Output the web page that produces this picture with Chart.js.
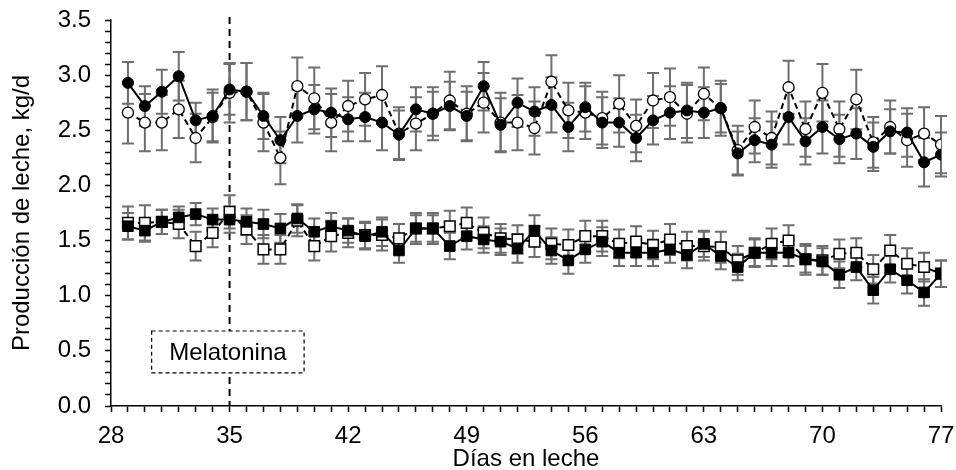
<!DOCTYPE html>
<html>
<head>
<meta charset="utf-8">
<script src="https://cdn.jsdelivr.net/npm/chart.js@4.4.1/dist/chart.umd.min.js"></script>
<style>
  html, body { margin: 0; padding: 0; background: #fff; }
  #wrap { width: 956px; height: 470px; }
</style>
</head>
<body>
<div id="wrap"><canvas id="milkChart" width="956" height="470"></canvas></div>
<script>
// days 29..77
const days = [];
for (let d = 29; d <= 77; d++) days.push(d);

// upper group, filled circles (solid line)
const circFilled = [2.93, 2.72, 2.85, 2.99, 2.59, 2.63, 2.87, 2.85, 2.63, 2.41,
                    2.63, 2.69, 2.66, 2.60, 2.62, 2.57, 2.46, 2.69, 2.65, 2.72,
                    2.63, 2.90, 2.55, 2.75, 2.67, 2.73, 2.53, 2.71, 2.57, 2.57,
                    2.43, 2.59, 2.66, 2.68, 2.66, 2.70, 2.29, 2.41, 2.37, 2.62,
                    2.40, 2.53, 2.42, 2.47, 2.35, 2.49, 2.48, 2.21, 2.28];
const circFilledErr = [0.19, 0.18, 0.20, 0.22, 0.16, 0.24, 0.23, 0.26, 0.21, 0.21,
                       0.24, 0.22, 0.22, 0.20, 0.22, 0.25, 0.22, 0.20, 0.20, 0.22,
                       0.22, 0.22, 0.24, 0.22, 0.22, 0.25, 0.22, 0.22, 0.23, 0.22,
                       0.21, 0.22, 0.24, 0.25, 0.23, 0.22, 0.20, 0.20, 0.21, 0.25,
                       0.21, 0.24, 0.22, 0.23, 0.22, 0.20, 0.22, 0.22, 0.20];

// upper group, open circles (dashed line)
const circOpen = [2.66, 2.57, 2.57, 2.69, 2.43, 2.62, 2.84, 2.85, 2.57, 2.25,
                  2.90, 2.79, 2.57, 2.72, 2.78, 2.82, 2.47, 2.56, 2.65, 2.77,
                  2.65, 2.75, 2.57, 2.57, 2.52, 2.94, 2.68, 2.66, 2.61, 2.74,
                  2.54, 2.77, 2.80, 2.65, 2.83, 2.70, 2.32, 2.53, 2.43, 2.89,
                  2.51, 2.84, 2.51, 2.78, 2.39, 2.53, 2.41, 2.47, 2.37];
const circOpenErr = [0.28, 0.26, 0.25, 0.26, 0.22, 0.22, 0.27, 0.26, 0.26, 0.24,
                     0.26, 0.28, 0.26, 0.23, 0.24, 0.26, 0.24, 0.24, 0.24, 0.26,
                     0.25, 0.27, 0.27, 0.25, 0.24, 0.24, 0.25, 0.24, 0.24, 0.26,
                     0.24, 0.25, 0.26, 0.26, 0.24, 0.25, 0.22, 0.24, 0.24, 0.24,
                     0.25, 0.26, 0.25, 0.27, 0.23, 0.24, 0.24, 0.24, 0.26];

// lower group, filled squares (solid line)
const sqFilled = [1.63, 1.59, 1.67, 1.71, 1.74, 1.69, 1.69, 1.67, 1.65, 1.61,
                  1.70, 1.58, 1.63, 1.59, 1.54, 1.58, 1.41, 1.61, 1.61, 1.45,
                  1.54, 1.51, 1.49, 1.43, 1.59, 1.41, 1.32, 1.42, 1.49, 1.39,
                  1.39, 1.39, 1.42, 1.37, 1.47, 1.36, 1.26, 1.39, 1.39, 1.39,
                  1.33, 1.31, 1.19, 1.26, 1.05, 1.24, 1.14, 1.03, 1.20];
const sqFilledErr = [0.12, 0.10, 0.11, 0.10, 0.10, 0.10, 0.12, 0.12, 0.13, 0.13,
                     0.13, 0.12, 0.12, 0.11, 0.12, 0.13, 0.11, 0.12, 0.12, 0.12,
                     0.12, 0.12, 0.12, 0.13, 0.14, 0.12, 0.12, 0.12, 0.13, 0.12,
                     0.12, 0.12, 0.12, 0.12, 0.12, 0.12, 0.12, 0.12, 0.12, 0.12,
                     0.12, 0.12, 0.12, 0.12, 0.12, 0.12, 0.12, 0.12, 0.12];

// lower group, open squares (dashed line)
const sqOpen = [1.66, 1.66, 1.67, 1.65, 1.45, 1.57, 1.76, 1.60, 1.42, 1.42,
                1.68, 1.45, 1.54, 1.57, 1.55, 1.55, 1.52, 1.61, 1.61, 1.63,
                1.66, 1.57, 1.52, 1.51, 1.49, 1.47, 1.46, 1.54, 1.54, 1.47,
                1.49, 1.46, 1.51, 1.45, 1.45, 1.44, 1.32, 1.39, 1.47, 1.50,
                1.33, 1.32, 1.38, 1.39, 1.24, 1.41, 1.29, 1.26, 1.20];
const sqOpenErr = [0.15, 0.16, 0.11, 0.13, 0.13, 0.13, 0.15, 0.13, 0.13, 0.13,
                   0.14, 0.13, 0.14, 0.13, 0.12, 0.14, 0.13, 0.14, 0.14, 0.14,
                   0.14, 0.14, 0.13, 0.13, 0.14, 0.14, 0.14, 0.14, 0.14, 0.13,
                   0.14, 0.13, 0.14, 0.13, 0.13, 0.14, 0.13, 0.13, 0.14, 0.14,
                   0.14, 0.13, 0.13, 0.13, 0.13, 0.14, 0.14, 0.13, 0.12];

const startDay = 35;            // melatonin start (dashed vertical line)
const boxLabel = "Melatonina";

const FONT = "'Liberation Sans', Arial, sans-serif";

function pts(vals) {
    return vals.map((v, i) => ({ x: days[i], y: v }));
}

// =====================
// error bars + start line
// =====================
const errorBars = {
    id: "errorBars",
    beforeDatasetsDraw(chart) {
        const ctx = chart.ctx;
        const xs = chart.scales.x;
        const ys = chart.scales.y;
        const area = chart.chartArea;

        // vertical dashed line
        const lx = xs.getPixelForValue(startDay);
        ctx.save();
        ctx.strokeStyle = "#000";
        ctx.lineWidth = 2;
        ctx.setLineDash([7, 5]);
        ctx.beginPath();
        ctx.moveTo(lx, area.top - 3);
        ctx.lineTo(lx, area.bottom);
        ctx.stroke();
        ctx.restore();

        ctx.save();
        ctx.strokeStyle = "#6e6e6e";
        ctx.lineWidth = 2;
        chart.data.datasets.forEach((ds, i) => {
            if (!ds.errors) return;
            const meta = chart.getDatasetMeta(i);
            meta.data.forEach((el, j) => {
                const v = ds.data[j].y;
                const e = ds.errors[j];
                const y1 = ys.getPixelForValue(v + e);
                const y2 = ys.getPixelForValue(v - e);
                ctx.beginPath();
                ctx.moveTo(el.x, y1);
                ctx.lineTo(el.x, y2);
                ctx.moveTo(el.x - 6, y1);
                ctx.lineTo(el.x + 6, y1);
                ctx.moveTo(el.x - 6, y2);
                ctx.lineTo(el.x + 6, y2);
                ctx.stroke();
            });
        });
        ctx.restore();
    },
    afterDatasetsDraw(chart) {
        // "Melatonina" box
        const ctx = chart.ctx;
        const xs = chart.scales.x;
        const ys = chart.scales.y;
        const x1 = xs.getPixelForValue(30.4);
        const x2 = xs.getPixelForValue(39.4);
        const y1 = ys.getPixelForValue(0.68);
        const y2 = ys.getPixelForValue(0.30);
        ctx.save();
        ctx.fillStyle = "#fff";
        ctx.fillRect(x1, y1, x2 - x1, y2 - y1);
        ctx.strokeStyle = "#000";
        ctx.lineWidth = 1.2;
        ctx.setLineDash([4, 3]);
        ctx.strokeRect(x1, y1, x2 - x1, y2 - y1);
        ctx.setLineDash([]);
        ctx.fillStyle = "#000";
        ctx.font = "24px " + FONT;
        ctx.textAlign = "center";
        ctx.textBaseline = "middle";
        ctx.fillText(boxLabel, (x1 + x2) / 2, (y1 + y2) / 2 + 1);
        ctx.restore();
    }
};

const ctx = document.getElementById("milkChart").getContext("2d");

new Chart(ctx, {
    type: "line",
    data: {
        datasets: [
            {
                data: pts(circFilled), errors: circFilledErr,
                borderColor: "#000", borderWidth: 2,
                pointStyle: "circle", pointRadius: 5.5,
                pointBackgroundColor: "#000", pointBorderColor: "#000", pointBorderWidth: 1
            },
            {
                data: pts(circOpen), errors: circOpenErr,
                borderColor: "#000", borderWidth: 2, borderDash: [6, 4],
                pointStyle: "circle", pointRadius: 5.5,
                pointBackgroundColor: "#fff", pointBorderColor: "#000", pointBorderWidth: 1.3
            },
            {
                data: pts(sqFilled), errors: sqFilledErr,
                borderColor: "#000", borderWidth: 2,
                pointStyle: "rect", pointRadius: 7.5,
                pointBackgroundColor: "#000", pointBorderColor: "#000", pointBorderWidth: 1
            },
            {
                data: pts(sqOpen), errors: sqOpenErr,
                borderColor: "#000", borderWidth: 2, borderDash: [6, 4],
                pointStyle: "rect", pointRadius: 7.5,
                pointBackgroundColor: "#fff", pointBorderColor: "#000", pointBorderWidth: 1.5
            }
        ]
    },
    options: {
        responsive: false,
        animation: false,
        layout: { padding: { left: 0, top: 20, right: 0, bottom: 0 } },
        plugins: { legend: { display: false }, tooltip: { enabled: false } },
        elements: { line: { tension: 0 } },
        scales: {
            x: {
                type: "linear", min: 28, max: 77,
                border: { display: true, color: "#000", width: 1.5 },
                grid: { drawOnChartArea: false, drawTicks: true, tickLength: 6, color: "#000", tickWidth: 1.5 },
                ticks: {
                    stepSize: 1, autoSkip: false, maxRotation: 0, padding: 10,
                    color: "#000", font: { family: FONT, size: 24 },
                    callback: v => ((v - 28) % 7 === 0 ? String(v) : "")
                },
                title: {
                    display: true, text: "Días en leche", color: "#000",
                    font: { family: FONT, size: 24, lineHeight: 1 }, padding: { top: 0, bottom: -1 }
                },
                afterFit: s => {
                    s.height = 64;
                    s.paddingLeft = 0;
                    s.paddingRight = 15;
                }
            },
            y: {
                min: 0, max: 3.5,
                border: { display: true, color: "#000", width: 1.5 },
                grid: { drawOnChartArea: false, drawTicks: true, tickLength: 6, color: "#000", tickWidth: 1.5 },
                ticks: {
                    stepSize: 0.1, autoSkip: false, padding: 14,
                    color: "#000", font: { family: FONT, size: 24 },
                    callback: v => {
                        const r = Math.round(v * 10);
                        return r % 5 === 0 ? (r / 10).toFixed(1) : "";
                    }
                },
                title: {
                    display: true, text: "Producción de leche, kg/d", color: "#000",
                    font: { family: FONT, size: 24, lineHeight: 1 }, padding: 10
                },
                afterFit: s => {
                    s.width = 111;
                    s.paddingTop = 0;
                    s.paddingBottom = 0;
                }
            }
        }
    },
    plugins: [errorBars]
});
</script>
</body>
</html>
